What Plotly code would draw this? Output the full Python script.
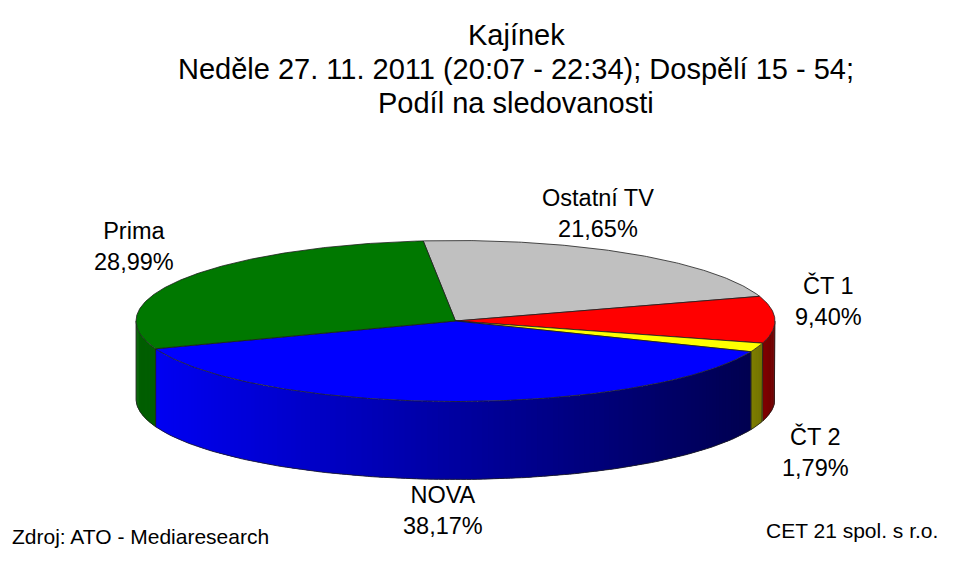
import numpy as np
import plotly.graph_objects as go

# data (clockwise from the top, as in the original 3D pie)
channels = ['Ostatní TV', 'ČT 1', 'ČT 2', 'NOVA', 'Prima']
shares = [21.65, 9.40, 1.79, 38.17, 28.99]

title_lines = ['Kajínek',
               'Neděle 27. 11. 2011 (20:07 - 22:34); Dospělí 15 - 54;',
               'Podíl na sledovanosti']
source_text = 'Zdroj: ATO - Mediaresearch'
owner_text = 'CET 21 spol. s r.o.'

# style
top_colors = ['#C0C0C0', '#FF0000', '#FFFF00', '#0000FF', '#007800']
side_colors = [('#8C8C8C', '#8C8C8C'), ('#820000', '#6C0000'),
               ('#7E7E00', '#727200'), ('#0000F2', '#000050'),
               ('#005E00', '#005E00')]
label_pos = [(598, 213), (828, 301), (815, 452), (443, 510), (134, 246)]
title_y = [35, 69, 103]

CX, CY = 455.5, 321.0
RX, RY = 319.5, 80.5
DEPTH = 78.0
START = 95.8
FONT = 'Arial, Liberation Sans, sans-serif'
OFF = 8  # page margin of the html body


def ell(t):
    r = np.radians(t)
    return CX + RX * np.cos(r), CY - RY * np.sin(r)


def hex_rgb(h):
    return np.array([int(h[i:i + 2], 16) for i in (1, 3, 5)], dtype=float)


def mix(c1, c2, u):
    c = hex_rgb(c1) * (1 - u) + hex_rgb(c2) * u
    return 'rgb({:.0f},{:.0f},{:.0f})'.format(*c)


# slice angle ranges, going clockwise
total = sum(shares)
spans = []
a = START
for v in shares:
    b = a - 360.0 * v / total
    spans.append((a, b))
    a = b

fig = go.Figure()
edge = dict(color='#1E1E1E', width=0.8)

# side walls (front half only: angles between -180 and 0)
for i, (a, b) in enumerate(spans):
    for shift in (0, 360, -360):
        hi = min(a + shift, 0.0)
        lo = max(b + shift, -180.0)
        if hi <= lo:
            continue
        n = max(2, int((hi - lo) / 1.0) + 1)
        ts = np.linspace(hi, lo, n + 1)
        step = ts[0] - ts[1]
        x_lo, x_hi = ell(lo)[0], ell(hi)[0]
        for k, (t1, t2) in enumerate(zip(ts[:-1], ts[1:])):
            # each strip runs a little into the next one to hide seams
            t2o = max(t2 - 0.8 * step, lo) if k < n - 1 else t2
            tt = np.linspace(t1, t2o, 4)
            ex, ey = ell(tt)
            xm = ell((t1 + t2) / 2)[0]
            u = 0 if x_hi == x_lo else (xm - x_lo) / (x_hi - x_lo)
            col = mix(side_colors[i][0], side_colors[i][1], u)
            fig.add_trace(go.Scatter(
                x=list(ex) + list(ex[::-1]) + [ex[0]],
                y=list(ey) + list(ey[::-1] + DEPTH) + [ey[0]],
                mode='lines', fill='toself', fillcolor=col,
                line=dict(color=col, width=0), hoverinfo='skip'))
        # outline of the wall
        tt = np.linspace(hi, lo, 120)
        ex, ey = ell(tt)
        fig.add_trace(go.Scatter(
            x=[ex[0]] + list(ex) + [ex[-1]],
            y=[ey[0]] + list(ey + DEPTH) + [ey[-1]],
            mode='lines', line=edge, hoverinfo='skip'))

# top face wedges
for i, (a, b) in enumerate(spans):
    tt = np.linspace(a, b, max(3, int(abs(a - b) * 2)))
    ex, ey = ell(tt)
    fig.add_trace(go.Scatter(
        x=[CX] + list(ex) + [CX],
        y=[CY] + list(ey) + [CY],
        mode='lines', fill='toself', fillcolor=top_colors[i],
        line=edge, name=channels[i],
        text='{}: {:.2f}%'.format(channels[i], shares[i]),
        hoverinfo='text', hoveron='fills'))

# data labels
for i, v in enumerate(shares):
    pct = '{:.2f}'.format(v).replace('.', ',') + '%'
    fig.add_annotation(x=label_pos[i][0], y=label_pos[i][1],
                       text=channels[i] + '<br>' + pct, showarrow=False,
                       font=dict(family=FONT, size=23.5, color='#000000'),
                       xanchor='center', yanchor='middle')

# title, one line per annotation to keep the tight line spacing
for line, ty in zip(title_lines, title_y):
    fig.add_annotation(x=516, y=ty, text=line, showarrow=False,
                       xanchor='center', yanchor='middle',
                       font=dict(family=FONT, size=29, color='#000000'))

fig.add_annotation(x=10, y=536, text=source_text, showarrow=False,
                   xanchor='left', yanchor='middle',
                   font=dict(family=FONT, size=21, color='#000000'))
fig.add_annotation(x=940, y=530, text=owner_text, showarrow=False,
                   xanchor='right', yanchor='middle',
                   font=dict(family=FONT, size=21, color='#000000'))

fig.update_layout(
    width=959, height=574,
    margin=dict(l=0, r=0, t=0, b=0),
    paper_bgcolor='white', plot_bgcolor='white',
    showlegend=False,
    xaxis=dict(range=[OFF, 959 + OFF], visible=False, fixedrange=True),
    yaxis=dict(range=[574 + OFF, OFF], visible=False, fixedrange=True),
)

fig.write_html("out.html")
